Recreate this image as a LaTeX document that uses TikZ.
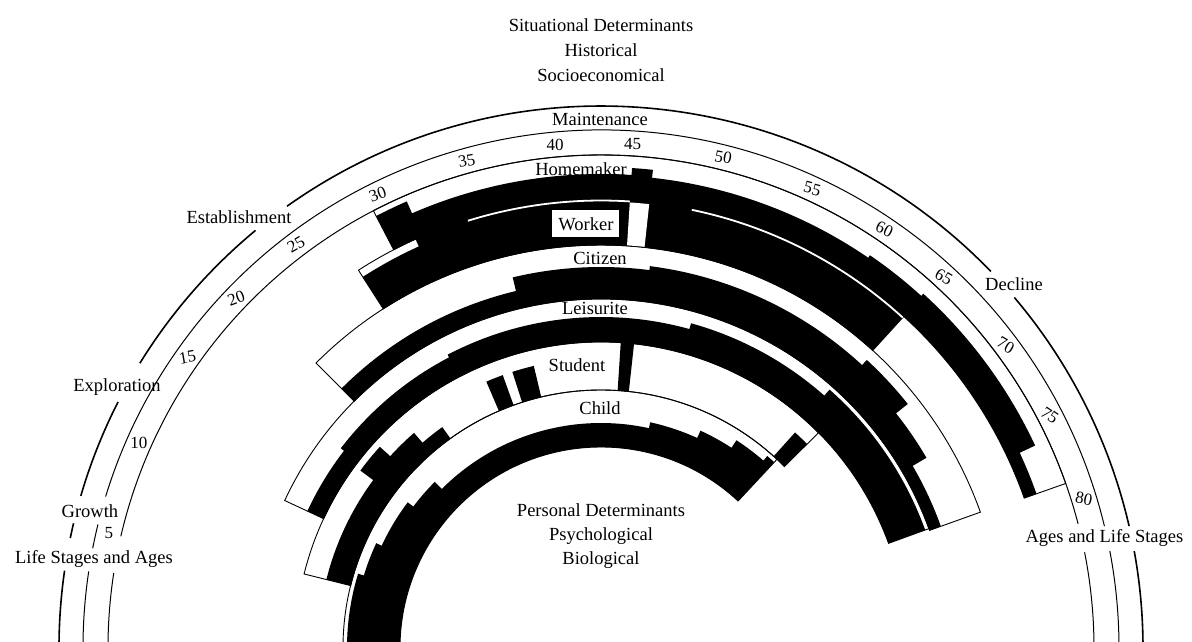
\documentclass[tikz,border=0pt]{standalone}
\usepackage{fontspec}
\setmainfont{Liberation Serif}
\newcommand\rsect[4]{\fill (#1:#3) arc[start angle=#1,end angle=#2,radius=#3] -- (#2:#4) arc[start angle=#2,end angle=#1,radius=#4] -- cycle;}
\newcommand\rband[4]{\draw[bandline] (#1:#3) arc[start angle=#1,end angle=#2,radius=#3] -- (#2:#4) arc[start angle=#2,end angle=#1,radius=#4] -- cycle;}
\newcommand\drawarc[4][]{\draw[#1] (#2:#4) arc[start angle=#2,end angle=#3,radius=#4];}
\begin{document}
\begin{tikzpicture}[x=1pt,y=1pt,
  txt/.style={font=\fontsize{18.5}{20}\selectfont, inner sep=1pt},
  age/.style={font=\fontsize{17}{18}\selectfont, inner sep=0pt},
  outerarc/.style={line width=1.6pt},
  thinarc/.style={line width=1pt},
  bandline/.style={line width=0.9pt},
  whiteline/.style={white, line width=1.8pt},
  seg/.style n args={3}{insert path={-- (#1:#3) arc[start angle=#1,end angle=#2,radius=#3]}},
]
\useasboundingbox (-601,7) rectangle (591,648);
\clip (-601,7) rectangle (591,648);

% ---- life stage / age arcs ----
\drawarc[outerarc]{0}{10.3}{542}
\drawarc[outerarc]{13.0}{40.3}{542}
\drawarc[outerarc]{44}{125.4}{542}
\drawarc[outerarc]{129.6}{148.3}{542}
\drawarc[outerarc]{153}{163.7}{542}
\drawarc[outerarc]{166.7}{168.3}{542}
\drawarc[outerarc]{171.8}{180}{542}
\drawarc[thinarc]{0}{10.8}{518}
\drawarc[thinarc]{13.6}{163}{518}
\drawarc[thinarc]{166.2}{168.9}{518}
\drawarc[thinarc]{171.5}{180}{518}
\drawarc[thinarc]{0}{11.2}{493}
\drawarc[thinarc]{14.6}{166.9}{493}
\drawarc[thinarc]{171.25}{180}{493}

% ---- role band outlines ----
\rband{19.5}{117.5}{449}{493}
\rband{47.6}{122.7}{403}{449}
\rband{19.7}{135}{349}{403}
\rband{20}{155}{306}{349}
\rband{44.7}{166}{258}{306}
\rband{47}{180}{201}{258}

% ---- Homemaker ----
\fill (117.5:449) arc[start angle=117.5,end angle=19.5,radius=449]
  [seg={19.5}{25}{462}] [seg={25}{47.7}{479}] [seg={47.7}{55.6}{476}]
  [seg={55.6}{83.8}{473}] [seg={83.8}{86.3}{481}] [seg={86.3}{113.5}{474}]
  [seg={113.5}{117.5}{487}] -- cycle;
% ---- Worker ----
\fill (122.7:403) arc[start angle=122.7,end angle=47.6,radius=403]
  [seg={47.6}{114.4}{449}] [seg={114.4}{122.7}{441}] -- cycle;
% ---- Citizen ----
\fill (135:349) arc[start angle=135,end angle=19.7,radius=349]
  [seg={19.7}{30.3}{361}] [seg={30.3}{38.5}{377}] [seg={38.5}{47.3}{392}]
  [seg={47.3}{82.7}{385}] [seg={82.7}{103.4}{381}] [seg={103.4}{135}{367}] -- cycle;
% ---- Leisurite ----
\fill (155:306) arc[start angle=155,end angle=20,radius=306]
  [seg={20}{48.5}{345}] [seg={48.5}{74.5}{337}] [seg={74.5}{117.6}{331}]
  [seg={117.6}{142.5}{328}] [seg={142.5}{155}{324}] -- cycle;
% ---- Student ----
\fill (166:258) arc[start angle=166,end angle=125.7,radius=258]
  [seg={125.7}{131}{272}] [seg={131}{137.7}{285}] [seg={137.7}{143.6}{299}]
  [seg={143.6}{166}{283}] -- cycle;
\rsect{113.3}{109.8}{258}{290}
\rsect{107.8}{103.4}{258}{290}
\rsect{86.3}{83.8}{258}{306}
\rsect{48}{44.7}{258}{290}
% ---- Child ----
\fill (180:201) arc[start angle=180,end angle=47,radius=201]
  [seg={47}{49.1}{254}] [seg={49.1}{56.9}{248}] [seg={56.9}{65.4}{239}]
  [seg={65.4}{77.7}{231}] [seg={77.7}{135}{225}] [seg={135}{143}{235}]
  [seg={143}{155}{242}] [seg={155}{163}{248}] [seg={163}{180}{254}] -- cycle;

% ---- white details ----
\drawarc[whiteline]{107.3}{86.3}{447.5}
\drawarc[whiteline]{78.3}{47.6}{447.5}
\fill[white] (86.3:403.5) arc[start angle=86.3,end angle=83.8,radius=403.5] -- (83.8:446.5) arc[start angle=83.8,end angle=86.3,radius=446.5] -- cycle;

% ---- role labels ----
\node[txt, fill=white, minimum width=67pt, minimum height=27pt, inner sep=0pt] (worker) at (-15,424) {Worker};
\node[txt] (homemaker) at (-20,479) {Homemaker};
\node[txt] (citizen) at (-1,390) {Citizen};
\node[txt] (leisurite) at (-6,340) {Leisurite};
\node[txt] (student) at (-24,283) {Student};
\node[txt] (child) at (-1,240) {Child};
\node[txt] (maint) at (-1,529) {Maintenance};

% ---- ages ----
\foreach \a/\t/\r in {5/166.8/0, 10/156.1/0, 15/144.9/10, 20/136.2/20, 25/127.1/30,
  30/116.2/20, 35/105.4/10, 40/95.2/0, 45/86.4/0, 50/76/-10, 55/65.3/-15,
  60/55.9/-25, 65/47.3/-30, 70/36.8/-30, 75/27.4/-35, 80/17.2/-10}
  \node[age, rotate=\r] (age\a) at (\t:505.5) {\a};

% ---- stage labels ----
\node[txt] (establishment) at (-362,431) {Establishment};
\node[txt] (exploration) at (-484,261) {Exploration};
\node[txt] (growth) at (-511,137) {Growth};
\node[txt] (lsa) at (-507,89) {Life Stages and Ages};
\node[txt] (decline) at (413,364) {Decline};
\node[txt] (als) at (503.5,110) {Ages and Life Stages};

% ---- determinants ----
\node[txt] (sit) at (0,623) {Situational Determinants};
\node[txt] (hist) at (0,598) {Historical};
\node[txt] (socio) at (0,573) {Socioeconomical};
\node[txt] (pers) at (0,138) {Personal Determinants};
\node[txt] (psych) at (0,112) {Psychological};
\node[txt] (bio) at (0,88) {Biological};
\end{tikzpicture}
\end{document}
